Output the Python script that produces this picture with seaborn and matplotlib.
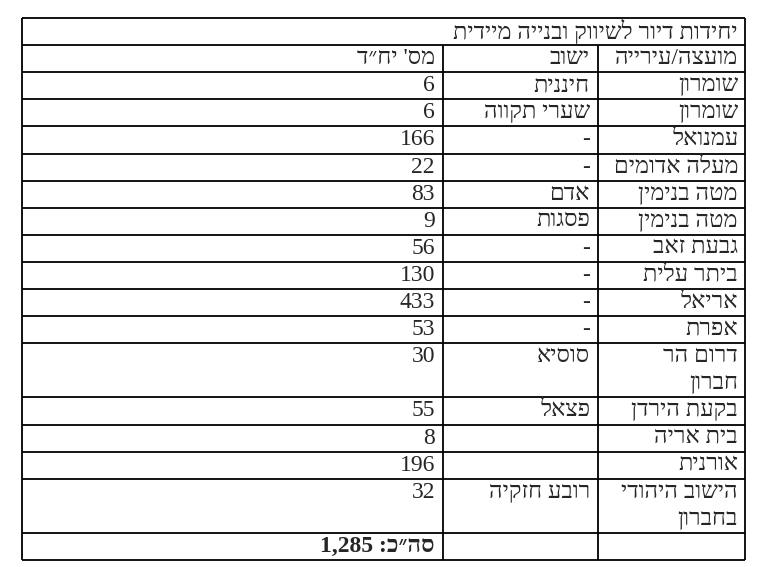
import matplotlib.pyplot as plt
import seaborn as sns

# ---------------- Data ---------------- #
title = "יחידות דיור לשיווק ובנייה מיידית"
headers = ["מועצה/עירייה", "ישוב", "מס' יח״ד"]
councils = ["שומרון", "שומרון", "עמנואל", "מעלה אדומים", "מטה בנימין", "מטה בנימין",
            "גבעת זאב", "ביתר עלית", "אריאל", "אפרת", "דרום הר\nחברון", "בקעת הירדן",
            "בית אריה", "אורנית", "הישוב היהודי\nבחברון"]
settlements = ["חיננית", "שערי תקווה", "-", "-", "אדם", "פסגות", "-", "-", "-", "-",
               "סוסיא", "פצאל", "", "", "רובע חזקיה"]
units = [6, 6, 166, 22, 83, 9, 56, 130, 433, 53, 30, 55, 8, 196, 32]
total_label = "סה״כ:"
total_value = "1,285"


def vis(s):
    """Reverse Hebrew for left-to-right rendering (no bidi in matplotlib)."""
    return s[::-1]


sns.set_style("white")
plt.rcParams["font.family"] = ["Liberation Serif", "DejaVu Serif"]

fig = plt.figure(figsize=(7.58, 5.67), dpi=100)
ax = fig.add_axes([0, 0, 1, 1])
ax.set_xlim(0, 758)
ax.set_ylim(567, 0)
ax.axis("off")

left, right, top, bottom = 22, 745, 18, 560
col_x = [598, 443]  # inner vertical borders
unit_h = (bottom - top) / 20
fs = 17
lw = 1.3

# row heights in units
rows = [1, 1] + [2 if "\n" in c else 1 for c in councils] + [1]
ys = [top]
for r in rows:
    ys.append(ys[-1] + r * unit_h)

# grid
ax.hlines(ys, left, right, color="black", lw=lw)
ax.vlines([left, right], top, bottom, color="black", lw=lw)
ax.vlines(col_x, ys[1], bottom, color="black", lw=lw)

text_r = [738, 590, 435]
ax.text(text_r[0], ys[0] + unit_h / 2, vis(title), ha="right", va="center", fontsize=fs)
for i, h in enumerate(headers):
    ax.text(text_r[i], ys[1] + unit_h / 2, vis(h), ha="right", va="center", fontsize=fs)

for i, (c, s, u) in enumerate(zip(councils, settlements, units)):
    y0 = ys[i + 2]
    for j, line in enumerate(c.split("\n")):
        ax.text(text_r[0], y0 + unit_h * (j + 0.5), vis(line), ha="right", va="center", fontsize=fs)
    ax.text(text_r[1], y0 + unit_h / 2, vis(s), ha="right", va="center", fontsize=fs)
    ax.text(text_r[2], y0 + unit_h / 2, str(u), ha="right", va="center", fontsize=fs)

ax.text(text_r[2], ys[-2] + unit_h / 2, total_value + " " + vis(total_label),
        ha="right", va="center", fontsize=fs, fontweight="bold")

fig.savefig("out.png", dpi=100, facecolor="white")
